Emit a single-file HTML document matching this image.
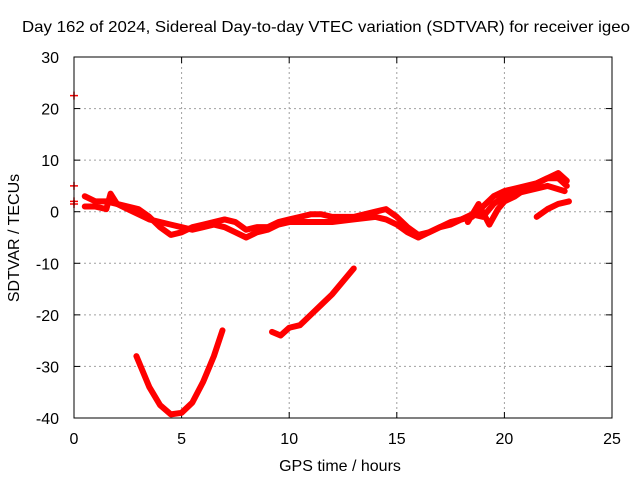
<!DOCTYPE html>
<html><head><meta charset="utf-8"><style>
body{margin:0;background:#fff}
svg text{font-family:"Liberation Sans",sans-serif;font-size:16px;fill:#000}
</style></head><body>
<svg id="c" width="640" height="480">
<rect width="640" height="480" fill="#fff"/>
<text x="22" y="32" textLength="608" lengthAdjust="spacingAndGlyphs">Day 162 of 2024, Sidereal Day-to-day VTEC variation (SDTVAR) for receiver igeo</text>
<text x="340" y="471" text-anchor="middle">GPS time / hours</text>
<text transform="translate(19,238) rotate(-90)" text-anchor="middle">SDTVAR / TECUs</text>
<g id="grid"></g><g id="series"></g>
<rect x="74" y="57" width="538" height="361" fill="none" stroke="#000"/>
</svg>
<script>
const xTicks=[0,5,10,15,20,25];
const yTicks=[-40,-30,-20,-10,0,10,20,30];
const trackA=[[2.9,-28],[3.5,-34],[4.0,-37.5],[4.5,-39.3],[5.0,-39],[5.5,-37],[6.0,-33],[6.5,-28],[6.9,-23]];
const trackB=[[9.2,-23.3],[9.6,-24],[10,-22.5],[10.5,-22],[11,-20],[11.5,-18],[12,-16],[12.5,-13.5],[13,-11]];
const band1=[[0.5,3],[1,2],[1.5,2],[2,1.5],[2.5,1],[3,0.5],[3.5,-1],[4,-3],[4.5,-4.5],[5,-4],[5.5,-3],[6,-2.5],[6.5,-2],[7,-1.5],[7.5,-2],[8,-3.5],[8.5,-3],[9,-3],[9.5,-2],[10,-1.5],[10.5,-1],[11,-0.5],[11.5,-0.5],[12,-1],[13,-1],[14,0],[14.5,0.5],[15,-1],[15.5,-3],[16,-4.5],[16.5,-4],[17,-3],[17.5,-2.5],[18,-1.5],[18.5,-1],[19,1],[19.5,3],[20,4],[20.5,4.5],[21,5],[21.5,5.5],[22,6.5],[22.5,6.5],[22.9,5]];
const band2=[[0.5,1],[1,1],[1.5,0.5],[1.7,3.5],[2,1.5],[2.5,0.5],[3,-0.5],[3.5,-1.5],[4,-2],[4.5,-2.5],[5,-3],[5.5,-3.5],[6,-3],[6.5,-2.5],[7,-3],[7.5,-4],[8,-5],[8.5,-4],[9,-3.5],[9.5,-2.5],[10,-2],[11,-2],[12,-2],[13,-1.5],[14,-1],[14.5,-1.5],[15,-2.5],[15.5,-4],[16,-5],[16.5,-4],[17,-3],[17.5,-2],[18,-1.5],[18.5,-0.5],[19,-1],[19.5,1.5],[20,3],[21,4],[22,5],[22.8,4]];
const band3=[[18.3,-2],[18.8,1.5],[19.3,-2.5],[19.7,0.5],[20,2],[20.5,3],[21,4.5],[22,6.5],[22.5,7.5],[22.9,6]];
const band4=[[21.5,-1],[22,0.5],[22.5,1.5],[23,2]];
const isolated=[[0,22.5],[0,5],[0,2],[0,1.5]];
const X=v=>74+v*538/25, Y=v=>418-(v+40)*361/70;
const NS="http://www.w3.org/2000/svg";
const grid=document.getElementById('grid'), ser=document.getElementById('series'), svg=document.getElementById('c');
function mk(t,a,p){const e=document.createElementNS(NS,t);for(const k in a)e.setAttribute(k,a[k]);p.appendChild(e);return e;}
xTicks.forEach(t=>{
  if(t>0&&t<25){const l=mk('line',{x1:X(t),x2:X(t),y1:57,y2:418,stroke:'#a0a0a0','stroke-dasharray':'2,3'},grid);
  
  }
  mk('line',{x1:X(t),x2:X(t),y1:418,y2:412,stroke:'#000'},grid);
  mk('line',{x1:X(t),x2:X(t),y1:57,y2:63,stroke:'#000'},grid);
  const tx=mk('text',{x:X(t),y:444,'text-anchor':'middle'},svg);tx.textContent=t;
  
  
});
yTicks.forEach(t=>{
  if(t>-40&&t<30){const l=mk('line',{x1:74,x2:612,y1:Y(t),y2:Y(t),stroke:'#a0a0a0','stroke-dasharray':'2,3'},grid);
  
  }
  mk('line',{x1:74,x2:80,y1:Y(t),y2:Y(t),stroke:'#000'},grid);
  mk('line',{x1:606,x2:612,y1:Y(t),y2:Y(t),stroke:'#000'},grid);
  const tx=mk('text',{x:59,y:Y(t)+6,'text-anchor':'end'},svg);tx.textContent=t;
  
  
});
[trackA,trackB,band1,band2,band3,band4].forEach(s=>{
  const p=mk('polyline',{points:s.map(d=>X(d[0])+','+Y(d[1])).join(' '),fill:'none',stroke:'#f00','stroke-width':6,'stroke-linejoin':'round','stroke-linecap':'round'},ser);
  
  
});
isolated.forEach(d=>{
  const p=mk('path',{d:`M${X(d[0])-4},${Y(d[1])}h8M${X(d[0])},${Y(d[1])-4}v8`,stroke:'#f00','stroke-width':1.5},ser);
  
  
});
</script>
</body></html>
